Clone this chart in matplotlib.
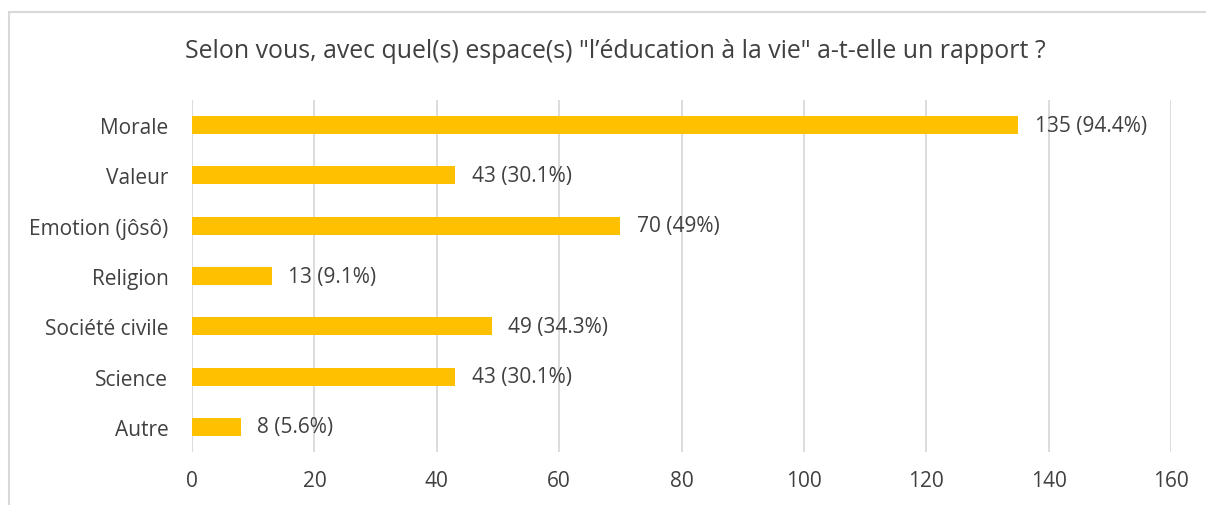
import matplotlib.pyplot as plt
from matplotlib.patches import Rectangle

plt.rcParams['font.family'] = ['Open Sans', 'DejaVu Sans']

categories = ['Morale', 'Valeur', 'Emotion (jôsô)', 'Religion',
              'Société civile', 'Science', 'Autre']
counts = [135, 43, 70, 13, 49, 43, 8]
labels = ['135 (94.4%)', '43 (30.1%)', '70 (49%)', '13 (9.1%)',
          '49 (34.3%)', '43 (30.1%)', '8 (5.6%)']
xticks = [0, 20, 40, 60, 80, 100, 120, 140, 160]
title = 'Selon vous, avec quel(s) espace(s) "l\u2019éducation à la vie" a-t-elle un rapport ?'

text_col = '#404040'
grid_col = '#d9d9d9'

fig = plt.figure(figsize=(12.06, 5.06), dpi=100)
# chart border, runs off the right and bottom of the picture
fig.patches.append(Rectangle((9 / 1206, -0.1), 1.5, 1 - 13 / 506 + 0.1,
                             transform=fig.transFigure, fill=False,
                             edgecolor=grid_col, linewidth=1.5))

ax = fig.add_axes([192 / 1206, 1 - 453 / 506, (1171 - 192) / 1206, 352 / 506])

ypos = list(range(len(categories)))
ax.barh(ypos, counts, height=0.36, color='#ffc000', zorder=3)
for y, v, lab in zip(ypos, counts, labels):
    ax.text(v + 2.7, y, lab, va='center', ha='left', fontsize=15, color=text_col)

ax.set_xlim(0, 160)
ax.set_ylim(len(categories) - 0.5, -0.5)
ax.set_yticks(ypos)
ax.set_yticklabels(categories, fontsize=15, color=text_col)
ax.set_xticks(xticks)
ax.set_xticklabels([str(t) for t in xticks], fontsize=15, color=text_col)
ax.tick_params(length=0)
ax.tick_params(axis='y', pad=17)
ax.tick_params(axis='x', pad=13)
ax.grid(axis='x', color=grid_col, linewidth=1.3, zorder=0)
for s in ax.spines.values():
    s.set_visible(False)

fig.text(615 / 1206, 1 - 52 / 506, title, ha='center', va='center',
         fontsize=17.9, color=text_col)

fig.savefig('out.png', dpi=100)
